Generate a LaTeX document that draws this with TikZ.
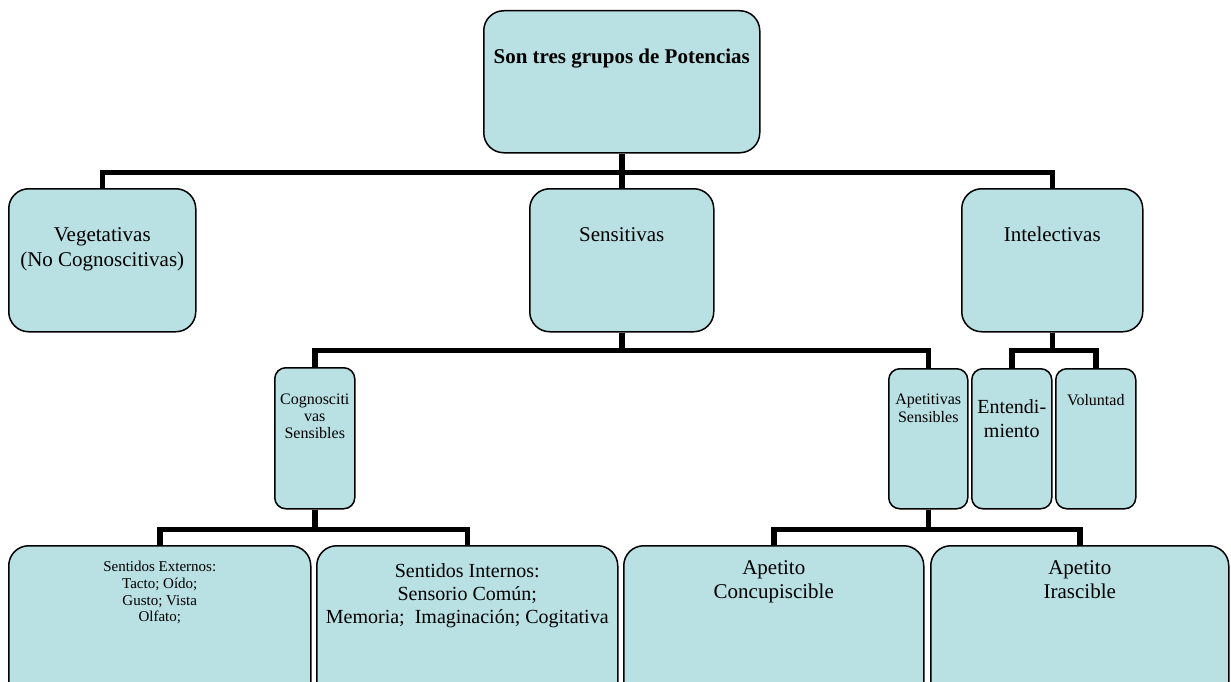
\documentclass[tikz,border=0pt]{standalone}
\usepackage{fontspec}
\setmainfont{Liberation Serif}
\definecolor{boxfill}{RGB}{185,224,227}
\begin{document}
\begin{tikzpicture}[x=1pt,y=-1pt,
box/.style={draw,fill=boxfill,line width=1.5pt,rounded corners=20pt,inner sep=0pt,anchor=north west},
small/.style={box,rounded corners=11pt},
txt/.style={anchor=north,align=center,inner sep=0pt},
bus/.style={line width=5.5pt}]
\useasboundingbox (0,0) rectangle (1231,682);
\clip (0,0) rectangle (1231,682);

\node[box,minimum width=276,minimum height=142,
 label={[txt,yshift=-39pt,font=\fontsize{21}{25}\selectfont\bfseries]north:Son tres grupos de Potencias}] (top) at (483,10) {};

\node[box,minimum width=187,minimum height=143,
 label={[txt,yshift=-39pt,font=\fontsize{21}{25}\selectfont]north:Vegetativas\\(No Cognoscitivas)}] (veg) at (8,188) {};
\node[box,minimum width=184,minimum height=143,
 label={[txt,yshift=-39pt,font=\fontsize{21}{25}\selectfont]north:Sensitivas}] (sens) at (529,188) {};
\node[box,minimum width=181,minimum height=143,
 label={[txt,yshift=-39pt,font=\fontsize{21}{25}\selectfont]north:Intelectivas}] (intel) at (961,188) {};

\node[small,minimum width=80,minimum height=141,
 label={[txt,yshift=-27pt,font=\fontsize{16}{17}\selectfont]north:Cognosciti\\vas\\Sensibles}] (cog) at (274,367) {};
\node[small,minimum width=79,minimum height=140,
 label={[txt,yshift=-26pt,font=\fontsize{16}{18}\selectfont]north:Apetitivas\\Sensibles}] (apet) at (888,368) {};
\node[small,minimum width=80,minimum height=140,
 label={[txt,yshift=-31pt,font=\fontsize{20}{24}\selectfont]north:Entendi-\\miento}] (entend) at (971,368) {};
\node[small,minimum width=80,minimum height=140,
 label={[txt,yshift=-26pt,font=\fontsize{16}{18}\selectfont]north:Voluntad}] (vol) at (1055,368) {};

\node[box,minimum width=302,minimum height=180,
 label={[txt,yshift=-16pt,font=\fontsize{15}{16.7}\selectfont]north:Sentidos Externos:\\Tacto; Oído;\\Gusto; Vista\\Olfato;}] (ext) at (8,545) {};
\node[box,minimum width=301,minimum height=180,
 label={[txt,yshift=-18pt,font=\fontsize{20}{23}\selectfont]north:Sentidos Internos:\\Sensorio Común;\\Memoria;\ \ Imaginación; Cogitativa}] (int) at (316,545) {};
\node[box,minimum width=300,minimum height=180,
 label={[txt,yshift=-15pt,font=\fontsize{21}{24}\selectfont]north:Apetito\\Concupiscible}] (conc) at (623,545) {};
\node[box,minimum width=298,minimum height=180,
 label={[txt,yshift=-15pt,font=\fontsize{21}{24}\selectfont]north:Apetito\\Irascible}] (iras) at (930,545) {};

\draw[bus] (top.south) -- ++(0,19) -| (veg.north);
\draw[bus] (top.south) -- (sens.north);
\draw[bus] (top.south) -- ++(0,19) -| (intel.north);

\draw[bus] (sens.south) -- ++(0,18) -| (cog.north);
\draw[bus] (sens.south) -- ++(0,18) -| (apet.north);
\draw[bus] (intel.south) -- ++(0,18) -| (entend.north);
\draw[bus] (intel.south) -- ++(0,18) -| (vol.north);

\draw[bus] (cog.south) -- ++(0,20) -| (ext.north);
\draw[bus] (cog.south) -- ++(0,20) -| (int.north);
\draw[bus] (apet.south) -- ++(0,20) -| (conc.north);
\draw[bus] (apet.south) -- ++(0,20) -| (iras.north);
\end{tikzpicture}
\end{document}
